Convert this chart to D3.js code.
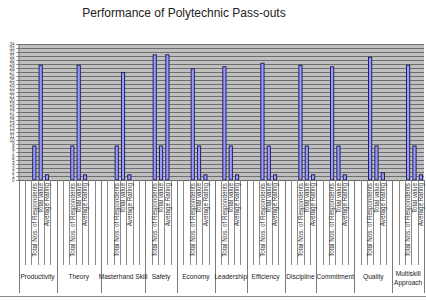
<!DOCTYPE html>
<html><head><meta charset="utf-8">
<script src="https://cdn.jsdelivr.net/npm/d3@7"></script>
<style>body{margin:0;background:#fff}svg{display:block}</style>
</head><body>
<svg id="c" width="426" height="301"></svg>
<script>
const title = "Performance of Polytechnic Pass-outs";
const categories = ["Productivity","Theory","Masterhand Skill","Safety","Economy","Leadership","Efficiency","Discipline","Commitment","Quality","Multiskill Approach"];
const subLabels = ["Total Nos. of Respondents","Total value","Average Rating"];
const leadBlanks = [2,2,2,1,2,1,2,2,2,2,2];
const trailBlanks = [1,2,2,1,1,1,1,0,1,1,0];
const firstBar = [8.5,8.5,8.5,31.3,27.8,28.3,29.2,28.7,28.3,30.7,28.7];
const secondBar = [28.7,28.7,26.9,8.5,8.5,8.5,8.5,8.5,8.5,8.5,8.5];
const thirdBar = [1.3,1.3,1.3,31.3,1.3,1.3,1.3,1.3,1.3,1.8,1.3];
const yTicks = d3.range(0,35,1);

const svg = d3.select("#c");
const L=18.5, R=424, T=44, B=180;

const slots=[]; const catRanges=[];
categories.forEach((c,i)=>{
  const start=slots.length;
  for(let k=0;k<leadBlanks[i];k++) slots.push({cat:i,label:"",v:null});
  [firstBar[i],secondBar[i],thirdBar[i]].forEach((v,j)=>slots.push({cat:i,label:subLabels[j],v}));
  for(let k=0;k<trailBlanks[i];k++) slots.push({cat:i,label:"",v:null});
  catRanges.push([start,slots.length]);
});
const x=d3.scaleBand().domain(d3.range(slots.length)).range([L,R]).padding(0);
const y=d3.scaleLinear().domain([0,34]).range([B,T]);
const bw=x.bandwidth();

svg.append("text").attr("x",184).attr("y",17).attr("text-anchor","middle")
  .attr("font-family","Liberation Sans, Arial, sans-serif").attr("font-size",12).attr("fill","#222").text(title);

svg.append("rect").attr("x",L).attr("y",T).attr("width",R-L).attr("height",B-T).attr("fill","#c0c0c0");
svg.append("g").selectAll("line").data(yTicks).join("line")
  .attr("x1",L).attr("x2",R).attr("y1",d=>Math.round(y(d))+0.5).attr("y2",d=>Math.round(y(d))+0.5)
  .attr("stroke","#6e6e6e").attr("stroke-width",1);

const yAxis=svg.append("g").attr("transform",`translate(${L},0)`)
  .call(d3.axisLeft(y).tickValues(yTicks).tickSize(2).tickFormat(d3.format("d")));
yAxis.selectAll("text").attr("font-size",4.6).attr("font-family","Liberation Sans, Arial, sans-serif").attr("fill","#444").attr("x",-4);
yAxis.selectAll("line").attr("stroke","#777");
yAxis.select(".domain").attr("stroke","#777");

svg.append("g").selectAll("rect").data(slots.map((s,i)=>({...s,i})).filter(s=>s.v!==null)).join("rect")
  .attr("x",d=>x(d.i)+bw/2-1.6).attr("width",3.2)
  .attr("y",d=>y(d.v)).attr("height",d=>B-y(d.v))
  .attr("fill","#9999ff").attr("stroke","#15154f").attr("stroke-width",0.9);

svg.append("line").attr("x1",L).attr("x2",R).attr("y1",B+0.5).attr("y2",B+0.5).attr("stroke","#666");

svg.append("g").selectAll("line").data(d3.range(slots.length+1)).join("line")
  .attr("x1",d=>Math.round(L+d*bw)+0.5).attr("x2",d=>Math.round(L+d*bw)+0.5)
  .attr("y1",B).attr("y2",265).attr("stroke","#8a8a8a").attr("stroke-width",1);
svg.append("g").selectAll("line").data([0,...catRanges.map(r=>r[1])]).join("line")
  .attr("x1",d=>Math.round(L+d*bw)+0.5).attr("x2",d=>Math.round(L+d*bw)+0.5)
  .attr("y1",B).attr("y2",293).attr("stroke","#7a7a7a").attr("stroke-width",1);

svg.append("g").selectAll("text").data(slots.map((s,i)=>({...s,i})).filter(s=>s.label)).join("text")
  .attr("transform",d=>`translate(${x(d.i)+bw/2+2.2},183) rotate(-90)`)
  .attr("text-anchor","end").attr("font-size",6.3)
  .attr("font-family","Liberation Sans, Arial, sans-serif").attr("fill","#333").text(d=>d.label);

const cg=svg.append("g").selectAll("text").data(categories.map((c,i)=>({c,i}))).join("text")
  .attr("x",d=>L+(catRanges[d.i][0]+catRanges[d.i][1])/2*bw)
  .attr("y",d=>d.c.length>17?276:279)
  .attr("text-anchor","middle").attr("font-size",6.6)
  .attr("font-family","Liberation Sans, Arial, sans-serif").attr("fill","#222");
cg.each(function(d){
  const t=d3.select(this);
  if(d.c.length>17){
    d.c.split(" ").forEach((w,k)=>t.append("tspan").attr("x",t.attr("x")).attr("dy",k?9:0).text(w));
  } else t.text(d.c);
});

svg.append("line").attr("x1",0).attr("x2",426).attr("y1",296.5).attr("y2",296.5).attr("stroke","#888");
</script>
</body></html>
